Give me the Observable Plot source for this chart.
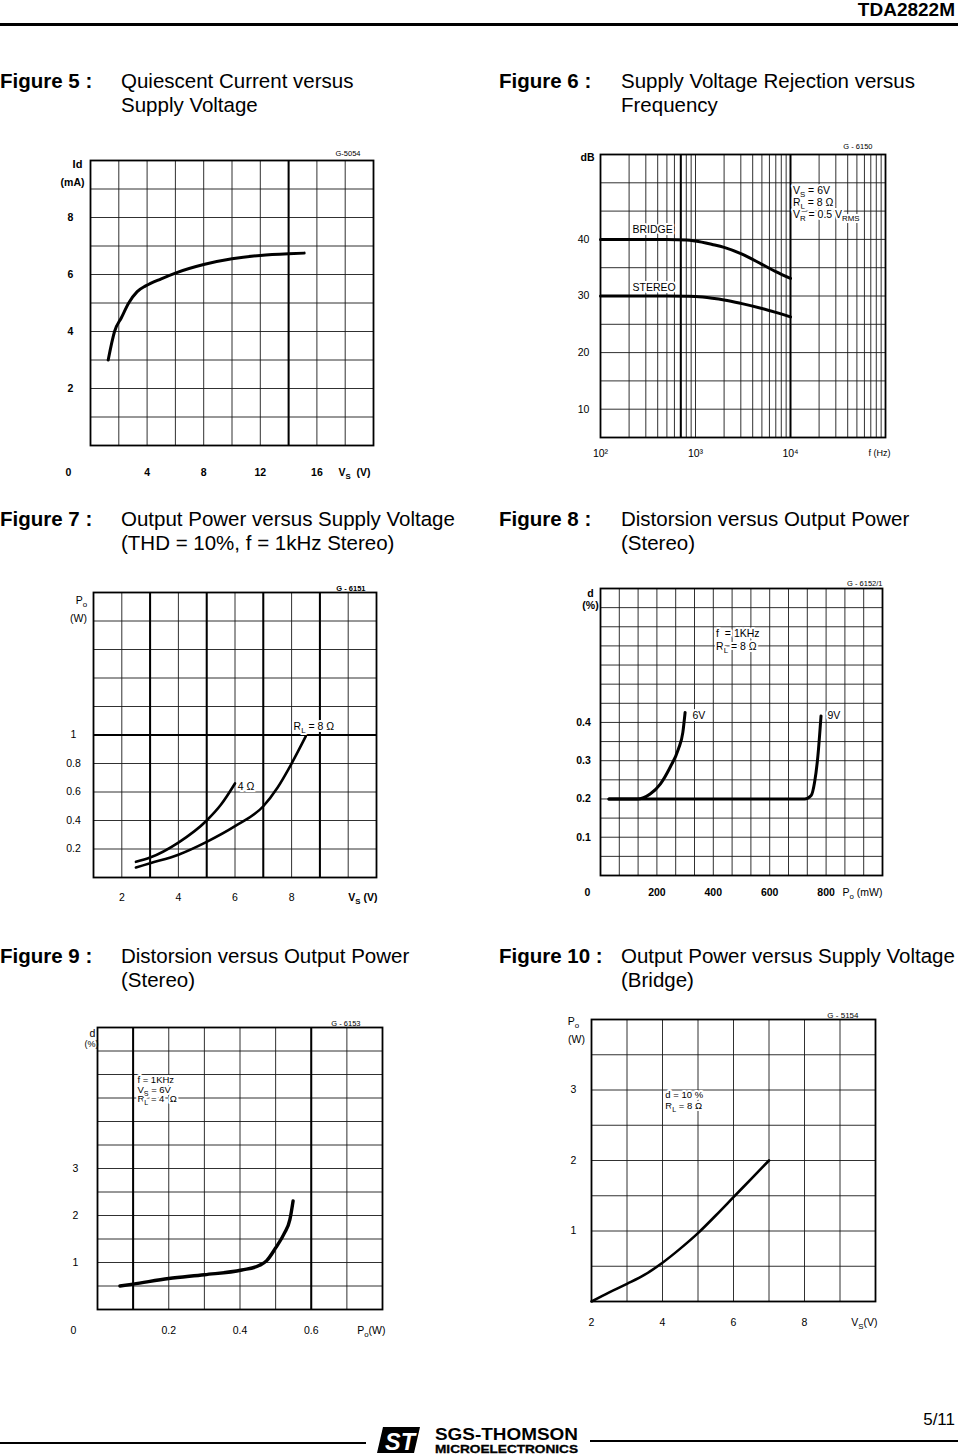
<!DOCTYPE html>
<html><head><meta charset="utf-8">
<script src="https://cdn.jsdelivr.net/npm/d3@7"></script>
<script src="https://cdn.jsdelivr.net/npm/@observablehq/plot@0.6"></script>
<style>
body{margin:0;background:#fff;}
#page{position:relative;width:958px;height:1455px;overflow:hidden;font-family:"Liberation Sans",Arial,Helvetica,sans-serif;color:#000;background:#fff;}
.t{position:absolute;font-size:20.5px;line-height:24px;white-space:nowrap;}
.b{font-weight:bold;}
.chart{position:absolute;}
.rule{position:absolute;background:#000;}
</style></head><body><div id="page"></div>
<script>
// ---------- DATA ----------
// Figure 5: quiescent current vs supply voltage
const fig5Vs = [1.25, 1.7, 2.2, 2.7, 3.3, 3.9, 5, 6, 8, 10, 12, 14, 15.1];
const fig5Id = [3.0, 4.0, 4.5, 5.0, 5.4, 5.6, 5.85, 6.05, 6.35, 6.55, 6.67, 6.73, 6.75];
const fig5XTicks = [4, 8, 12, 16];
const fig5XLabels = ["4", "8", "12", "16"];
const fig5YTicks = [2, 4, 6, 8];
const fig5YLabels = ["2", "4", "6", "8"];

// Figure 6: SVR vs frequency
const fig6Freq = [100, 200, 500, 800, 1000, 1500, 2000, 3000, 5000, 7000, 10000];
const fig6Bridge = [40, 40, 40, 39.9, 39.7, 39.1, 38.6, 37.5, 35.6, 34.3, 33.1];
const fig6Stereo = [30, 30, 30, 29.95, 29.9, 29.6, 29.3, 28.7, 27.8, 27.1, 26.3];
const fig6XTicks = [100, 1000, 10000];
const fig6XLabels = ["10²", "10³", "10⁴"];
const fig6YTicks = [10, 20, 30, 40];
const fig6YLabels = ["10", "20", "30", "40"];

// Figure 7: output power vs supply voltage (stereo)
const fig7Vs8 = [2.5, 3, 4, 5, 6, 7, 7.5, 8, 8.5];
const fig7Po8 = [0.07, 0.1, 0.16, 0.25, 0.36, 0.5, 0.63, 0.8, 0.99];
const fig7Vs4 = [2.5, 3, 4, 5, 5.5, 6];
const fig7Po4 = [0.11, 0.14, 0.245, 0.4, 0.51, 0.66];
const fig7XTicks = [2, 4, 6, 8];
const fig7XLabels = ["2", "4", "6", "8"];
const fig7YTicks = [0.2, 0.4, 0.6, 0.8, 1];
const fig7YLabels = ["0.2", "0.4", "0.6", "0.8", "1"];

// Figure 8: distortion vs output power (stereo, 8 ohm)
const fig8Po6 = [30, 80, 130, 176, 212, 247, 276, 292, 300];
const fig8D6 = [0.2, 0.2, 0.2, 0.213, 0.239, 0.283, 0.33, 0.374, 0.426];
const fig8Po9 = [30, 200, 400, 600, 724, 747, 759, 771, 782];
const fig8D9 = [0.2, 0.2, 0.2, 0.2, 0.2, 0.209, 0.243, 0.313, 0.417];
const fig8XTicks = [200, 400, 600, 800];
const fig8XLabels = ["200", "400", "600", "800"];
const fig8YTicks = [0.1, 0.2, 0.3, 0.4];
const fig8YLabels = ["0.1", "0.2", "0.3", "0.4"];

// Figure 9: distortion vs output power (stereo, 4 ohm)
const fig9Po = [0.063, 0.1, 0.2, 0.3, 0.405, 0.455, 0.475, 0.5, 0.525, 0.54, 0.549];
const fig9D = [0.5, 0.54, 0.66, 0.74, 0.84, 0.94, 1.04, 1.31, 1.63, 1.91, 2.31];
const fig9XTicks = [0.2, 0.4, 0.6];
const fig9XLabels = ["0.2", "0.4", "0.6"];
const fig9YTicks = [1, 2, 3];
const fig9YLabels = ["1", "2", "3"];

// Figure 10: output power vs supply voltage (bridge)
const fig10Vs = [2, 2.5, 3, 3.5, 4, 4.5, 5, 5.5, 6, 6.5, 7];
const fig10Po = [0, 0.13, 0.25, 0.38, 0.55, 0.75, 0.97, 1.22, 1.48, 1.74, 2.0];
const fig10XTicks = [2, 4, 6, 8];
const fig10XLabels = ["2", "4", "6", "8"];
const fig10YTicks = [1, 2, 3];
const fig10YLabels = ["1", "2", "3"];

// ---------- HELPERS ----------
const page = document.getElementById("page");
const FONT = "Liberation Sans, Arial, Helvetica, sans-serif";
const FS = 10.5;
const pts = (xs, ys) => xs.map((v, i) => ({x: v, y: ys[i]}));
const logGrid = () => { const g = []; for (let d = 2; d <= 4; d++) for (let k = 1; k <= 9; k++) g.push(k * 10 ** d); g.push(1e5); return g; };

function subs(root) {
  root.querySelectorAll("text").forEach(t => {
    const s = t.textContent;
    if (!s.includes("_{")) return;
    t.textContent = "";
    const parts = s.split(/(_\{[^}]*\})/).filter(p => p);
    let shifted = false;
    for (const p of parts) {
      const ts = document.createElementNS("http://www.w3.org/2000/svg", "tspan");
      if (p.startsWith("_{")) {
        ts.textContent = p.slice(2, -1);
        ts.setAttribute("font-size", "75%");
        ts.setAttribute("dy", shifted ? "0" : "3");
        shifted = true;
      } else {
        ts.textContent = p;
        if (shifted) { ts.setAttribute("dy", "-3"); shifted = false; }
      }
      t.appendChild(ts);
    }
  });
}

function chart(c) {
  const fw = c.bold ? "bold" : "normal";
  const marks = [
    Plot.ruleX(c.xGrid, {stroke: "#1a1a1a", strokeWidth: 0.9}),
    Plot.ruleY(c.yGrid, {stroke: "#1a1a1a", strokeWidth: 0.9}),
    Plot.ruleX(c.thickX || [], {stroke: "#000", strokeWidth: 2}),
    Plot.ruleY(c.thickY || [], {stroke: "#000", strokeWidth: 2}),
    Plot.frame({stroke: "#000", strokeWidth: 1.8}),
    ...c.notes.map(n => Plot.text([n], {x: "x", y: "y", text: "t", textAnchor: "start", lineAnchor: "middle", fontSize: n.fs || FS, stroke: "#fff", strokeWidth: 4, fill: "#000", paintOrder: "stroke"})),
    ...c.series.map(s => Plot.line(pts(s.x, s.y), {x: "x", y: "y", curve: "monotone-x", stroke: "#000", strokeWidth: s.w || 3, strokeLinecap: "round"})),
    Plot.axisX(c.xTicks, {tickSize: 0, tickPadding: c.xPad, tickFormat: d => c.xLabels[c.xTicks.indexOf(d)], fontSize: FS, fontWeight: fw, label: null}),
    Plot.axisY(c.yTicks, {tickSize: 0, tickPadding: c.yPad, textAnchor: "middle", tickFormat: d => c.yLabels[c.yTicks.indexOf(d)], fontSize: FS, fontWeight: fw, label: null}),
    ...c.frameTexts.map(t => Plot.text([t.t], {frameAnchor: t.fa, dx: t.dx, dy: t.dy, text: d => d, textAnchor: t.ta || "middle", lineAnchor: "middle", fontSize: t.fs || FS, fontWeight: t.fw || fw}))
  ];
  const svg = Plot.plot({
    width: c.w, height: c.h,
    marginLeft: c.m[0], marginTop: c.m[1], marginRight: c.m[2], marginBottom: c.m[3],
    x: {type: c.xType || "linear", domain: c.xDomain},
    y: {domain: c.yDomain},
    style: {fontFamily: FONT, fontSize: FS + "px", background: "transparent", overflow: "visible", color: "#000"},
    marks
  });
  subs(svg);
  svg.classList.add("chart");
  svg.style.left = c.left + "px";
  svg.style.top = c.top + "px";
  page.appendChild(svg);
}

function text(html, left, top, cls) {
  const d = document.createElement("div");
  d.className = "t " + (cls || "");
  d.innerHTML = html;
  d.style.left = left + "px";
  d.style.top = top + "px";
  page.appendChild(d);
  return d;
}
function rule(left, top, w, h) {
  const d = document.createElement("div");
  d.className = "rule";
  Object.assign(d.style, {left: left + "px", top: top + "px", width: w + "px", height: h + "px"});
  page.appendChild(d);
}

// ---------- PAGE HEADER ----------
const hdr = text("TDA2822M", 0, 0, "b");
hdr.style.left = "auto"; hdr.style.right = "3px"; hdr.style.top = "-2px"; hdr.style.fontSize = "19px";
rule(0, 23, 958, 3);

// ---------- TITLES ----------
const titles = [
  ["Figure 5 :", "Quiescent Current versus<br>Supply Voltage", 0, 121, 69],
  ["Figure 6 :", "Supply Voltage Rejection versus<br>Frequency", 499, 621, 69],
  ["Figure 7 :", "Output Power versus Supply Voltage<br>(THD = 10%, f = 1kHz Stereo)", 0, 121, 507],
  ["Figure 8 :", "Distorsion versus Output Power<br>(Stereo)", 499, 621, 507],
  ["Figure 9 :", "Distorsion versus Output Power<br>(Stereo)", 0, 121, 944],
  ["Figure 10 :", "Output Power versus Supply Voltage<br>(Bridge)", 499, 621, 944]
];
for (const [a, b, x1, x2, y] of titles) { text(a, x1, y, "b"); text(b, x2, y); }

// ---------- CHARTS ----------
chart({
  left: 40, top: 140, w: 345, h: 345, m: [50, 20, 12, 40],
  xDomain: [0, 20], yDomain: [0, 10],
  xGrid: d3.range(0, 21, 2), yGrid: d3.range(0, 11, 1), thickX: [14],
  xTicks: fig5XTicks, xLabels: fig5XLabels, yTicks: fig5YTicks, yLabels: fig5YLabels,
  xPad: 23, yPad: 20, bold: true,
  series: [{x: fig5Vs, y: fig5Id, w: 3}],
  frameTexts: [
    {t: "Id", fa: "top-left", dx: -13, dy: 4, fs: 11},
    {t: "(mA)", fa: "top-left", dx: -18, dy: 22, fs: 10.5},
    {t: "0", fa: "bottom-left", dx: -22, dy: 27},
    {t: "V_{S}  (V)", fa: "bottom-right", dx: -3, dy: 27, ta: "end"},
    {t: "G-5054", fa: "top-right", dx: -13, dy: -7, ta: "end", fs: 7.5, fw: "normal"}
  ],
  notes: []
});

chart({
  left: 550, top: 135, w: 345, h: 335, m: [50, 19, 10, 33],
  xType: "log", xDomain: [100, 100000], yDomain: [5, 55],
  xGrid: logGrid(), yGrid: d3.range(5, 56, 5), thickX: [700, 10000],
  xTicks: fig6XTicks, xLabels: fig6XLabels, yTicks: fig6YTicks, yLabels: fig6YLabels,
  xPad: 12, yPad: 17,
  series: [{x: fig6Freq, y: fig6Bridge, w: 3}, {x: fig6Freq, y: fig6Stereo, w: 3}],
  frameTexts: [
    {t: "dB", fa: "top-left", dx: -13, dy: 3, fw: "bold"},
    {t: "f (Hz)", fa: "bottom-right", dx: 5, dy: 16, ta: "end", fs: 9},
    {t: "G - 6150", fa: "top-right", dx: -13, dy: -8, ta: "end", fs: 7.5}
  ],
  notes: [
    {x: 217, y: 41.8, t: "BRIDGE"},
    {x: 217, y: 31.5, t: "STEREO"},
    {x: 10600, y: 48.6, t: "V_{S} = 6V"},
    {x: 10600, y: 46.5, t: "R_{L} = 8 Ω"},
    {x: 10600, y: 44.4, t: "V_{R} = 0.5 V_{RMS}"}
  ]
});

chart({
  left: 45, top: 570, w: 340, h: 340, m: [48, 22, 9, 33],
  xDomain: [1, 11], yDomain: [0, 2],
  xGrid: d3.range(1, 12, 1), yGrid: d3.range(0, 11).map(i => i * 0.2), thickX: [3, 5, 7, 9], thickY: [1],
  xTicks: fig7XTicks, xLabels: fig7XLabels, yTicks: fig7YTicks, yLabels: fig7YLabels,
  xPad: 16, yPad: 20,
  series: [{x: fig7Vs8, y: fig7Po8, w: 2.6}, {x: fig7Vs4, y: fig7Po4, w: 2.6}],
  frameTexts: [
    {t: "P_{o}", fa: "top-left", dx: -12, dy: 8},
    {t: "(W)", fa: "top-left", dx: -15, dy: 26},
    {t: "V_{S} (V)", fa: "bottom-right", dx: 1, dy: 20, ta: "end", fw: "bold"},
    {t: "G - 6151", fa: "top-right", dx: -11, dy: -4, ta: "end", fs: 7.5, fw: "bold"}
  ],
  notes: [
    {x: 6.1, y: 0.64, t: "4 Ω"},
    {x: 8.07, y: 1.06, t: "R_{L} = 8 Ω"}
  ]
});

chart({
  left: 550, top: 570, w: 345, h: 340, m: [50, 18, 13, 35],
  xDomain: [0, 1000], yDomain: [0, 0.75],
  xGrid: d3.range(0, 16).map(i => i * 1000 / 15), yGrid: d3.range(0, 16).map(i => i * 0.05),
  xTicks: fig8XTicks, xLabels: fig8XLabels, yTicks: fig8YTicks, yLabels: fig8YLabels,
  xPad: 13, yPad: 17, bold: true,
  series: [{x: fig8Po6, y: fig8D6, w: 3}, {x: fig8Po9, y: fig8D9, w: 3}],
  frameTexts: [
    {t: "d", fa: "top-left", dx: -10, dy: 5},
    {t: "(%)", fa: "top-left", dx: -10, dy: 17},
    {t: "0", fa: "bottom-left", dx: -13, dy: 17},
    {t: "P_{o} (mW)", fa: "bottom-right", dx: 0, dy: 17, ta: "end", fw: "normal"},
    {t: "G - 6152/1", fa: "top-right", dx: 0, dy: -5, ta: "end", fs: 7.5, fw: "normal"}
  ],
  notes: [
    {x: 410, y: 0.632, t: "f  = 1KHz"},
    {x: 410, y: 0.598, t: "R_{L} = 8 Ω"},
    {x: 326, y: 0.418, t: "6V"},
    {x: 805, y: 0.418, t: "9V"}
  ]
});

chart({
  left: 45, top: 1005, w: 345, h: 345, m: [52, 22, 8, 41],
  xDomain: [0, 0.8], yDomain: [0, 6],
  xGrid: d3.range(0, 9).map(i => i * 0.1), yGrid: d3.range(0, 13).map(i => i * 0.5), thickX: [0.1, 0.6],
  xTicks: fig9XTicks, xLabels: fig9XLabels, yTicks: fig9YTicks, yLabels: fig9YLabels,
  xPad: 17, yPad: 22,
  series: [{x: fig9Po, y: fig9D, w: 3.4}],
  frameTexts: [
    {t: "d", fa: "top-left", dx: -5, dy: 6},
    {t: "(%)", fa: "top-left", dx: -6, dy: 17, fs: 9},
    {t: "0", fa: "bottom-left", dx: -24, dy: 21},
    {t: "P_{o}(W)", fa: "bottom-right", dx: 3, dy: 21, ta: "end"},
    {t: "G - 6153", fa: "top-right", dx: -22, dy: -4, ta: "end", fs: 7.5}
  ],
  notes: [
    {x: 0.112, y: 4.88, t: "f = 1KHz", fs: 9.5},
    {x: 0.112, y: 4.68, t: "V_{S} = 6V", fs: 9.5},
    {x: 0.112, y: 4.47, t: "R_{L} = 4  Ω", fs: 9.5}
  ]
});

chart({
  left: 545, top: 1000, w: 340, h: 340, m: [46, 19, 10, 39],
  xDomain: [2, 10], yDomain: [0, 4],
  xGrid: d3.range(2, 11, 1), yGrid: d3.range(0, 9).map(i => i * 0.5),
  xTicks: fig10XTicks, xLabels: fig10XLabels, yTicks: fig10YTicks, yLabels: fig10YLabels,
  xPad: 17, yPad: 18,
  series: [{x: fig10Vs, y: fig10Po, w: 2.6}],
  frameTexts: [
    {t: "P_{o}", fa: "top-left", dx: -18, dy: 2},
    {t: "(W)", fa: "top-left", dx: -15, dy: 20},
    {t: "V_{S}(V)", fa: "bottom-right", dx: 2, dy: 21, ta: "end"},
    {t: "G - 5154", fa: "top-right", dx: -17, dy: -4, ta: "end", fs: 8}
  ],
  notes: [
    {x: 4.08, y: 2.93, t: "d = 10 %", fs: 9.5},
    {x: 4.08, y: 2.78, t: "R_{L} = 8 Ω", fs: 9.5}
  ]
});

// ---------- FOOTER ----------
const pn = text("5/11", 0, 1408);
pn.style.left = "auto"; pn.style.right = "3px"; pn.style.fontSize = "17px";
rule(0, 1442, 366, 2);
rule(590, 1440, 368, 2);
const logo = document.createElementNS("http://www.w3.org/2000/svg", "svg");
logo.setAttribute("width", "212"); logo.setAttribute("height", "32");
logo.style.position = "absolute"; logo.style.left = "374px"; logo.style.top = "1424px";
logo.innerHTML = `
  <polygon points="9,3 46,3 40,29 3,29" fill="#000"/>
  <text x="11" y="26" fill="#fff" font-family="${FONT}" font-weight="bold" font-style="italic" font-size="24" textLength="30" lengthAdjust="spacingAndGlyphs">ST</text>
  <text x="61" y="16" fill="#000" font-family="${FONT}" font-weight="900" font-size="16" textLength="143" lengthAdjust="spacingAndGlyphs">SGS-THOMSON</text>
  <text x="61" y="29" fill="#000" stroke="#000" stroke-width="0.3" font-family="${FONT}" font-weight="bold" font-size="11" textLength="143" lengthAdjust="spacingAndGlyphs">MICROELECTRONICS</text>`;
page.appendChild(logo);
</script>
</body></html>
